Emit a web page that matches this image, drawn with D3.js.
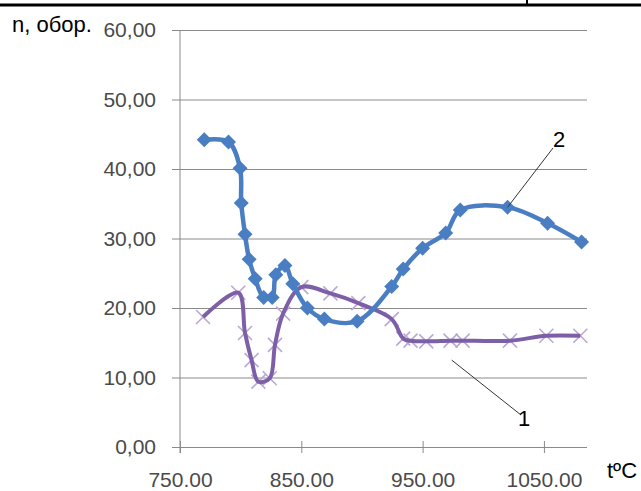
<!DOCTYPE html>
<html>
<head>
<meta charset="utf-8">
<script src="https://cdn.jsdelivr.net/npm/d3@7"></script>
<style>
  body { margin: 0; background: #fff; }
  svg { display: block; }
</style>
</head>
<body>
<script>
// curve 2 (blue, diamonds)
const temp2 = [770, 790, 799.5, 800.5, 803.6, 807, 812, 819, 826, 829, 836.5, 843, 855, 869, 896, 924.5, 934, 950, 969, 981, 1020, 1053, 1081]
const speed2 = [44.2, 43.9, 40.1, 35.1, 30.6, 27.0, 24.2, 21.5, 21.5, 24.8, 26.1, 23.5, 20.0, 18.4, 18.1, 23.1, 25.6, 28.6, 30.8, 34.1, 34.5, 32.2, 29.5]

// curve 1 (purple, crosses)
const temp1 = [769, 798, 803.6, 809, 814.6, 824, 828.3, 835, 850, 874, 897, 924.5, 934, 940, 953, 973, 983, 1022, 1052, 1080]
const speed1 = [18.7, 22.2, 16.4, 12.5, 9.4, 9.9, 14.7, 19.2, 23.0, 22.1, 20.7, 18.4, 15.6, 15.3, 15.2, 15.3, 15.3, 15.3, 16.0, 16.0]

const yTicks = [0, 10, 20, 30, 40, 50, 60]
const xTicks = [750, 850, 950, 1050]

const width = 641, height = 491
const plot = {left: 180, right: 587, top: 30, bottom: 447}

const svg = d3.select('body').append('svg')
    .attr('width', width)
    .attr('height', height)

const x = d3.scaleLinear().domain([750, 1085.5]).range([plot.left, plot.right])
const y = d3.scaleLinear().domain([0, 60]).range([plot.bottom, plot.top])

// black rule at the very top (cropped from the page)
svg.append('line')
    .attr('x1', 0).attr('x2', width)
    .attr('y1', 5).attr('y2', 5)
    .attr('stroke', '#000').attr('stroke-width', 3)
svg.append('line')
    .attr('x1', 527).attr('x2', 527)
    .attr('y1', 0).attr('y2', 4)
    .attr('stroke', '#000').attr('stroke-width', 2)

// y axis with gridlines
const yAxis = svg.append('g')
    .attr('transform', 'translate(' + plot.left + ',0)')
    .call(d3.axisLeft(y)
        .tickValues(yTicks)
        .tickSizeInner(-(plot.right - plot.left))
        .tickSizeOuter(0)
        .tickPadding(24)
        .tickFormat(d => d3.format('.2f')(d).replace('.', ',')))
yAxis.select('.domain').remove()
yAxis.selectAll('.tick line')
    .attr('x1', -8)
    .attr('stroke', '#8a8a8a')
yAxis.selectAll('.tick text')
    .attr('fill', '#4a4a4a')
    .style('font-family', '"Liberation Sans", Arial, sans-serif')
    .style('font-size', '21px')

// vertical axis line
svg.append('line')
    .attr('x1', plot.left).attr('x2', plot.left)
    .attr('y1', plot.top).attr('y2', plot.bottom + 6)
    .attr('stroke', '#8a8a8a')

// x axis
const xAxis = svg.append('g')
    .attr('transform', 'translate(0,' + plot.bottom + ')')
    .call(d3.axisBottom(x)
        .tickValues(xTicks)
        .tickSizeOuter(0)
        .tickFormat(d3.format('.2f')))
xAxis.select('.domain').remove()
xAxis.selectAll('.tick line')
    .attr('y1', -6).attr('y2', 6)
    .attr('stroke', '#8a8a8a')
xAxis.selectAll('.tick text')
    .attr('y', 40).attr('dy', 0)
    .attr('fill', '#4a4a4a')
    .style('font-family', '"Liberation Sans", Arial, sans-serif')
    .style('font-size', '21px')

const line = d3.line()
    .x(d => x(d[0]))
    .y(d => y(d[1]))
    .curve(d3.curveCatmullRom.alpha(0.5))

const series1 = temp1.map((t, i) => [t, speed1[i]])
const series2 = temp2.map((t, i) => [t, speed2[i]])

// curve 1: light crosses under a purple line
svg.selectAll('.cross').data(series1)
    .enter()
    .append('path')
        .attr('class', 'cross')
        .attr('transform', d => 'translate(' + x(d[0]) + ',' + y(d[1]) + ')')
        .attr('d', 'M-7,-7L7,7M-7,7L7,-7')
        .attr('stroke', '#bba8d6')
        .attr('stroke-width', 1.6)
        .attr('fill', 'none')

svg.append('path')
    .datum(series1)
    .attr('d', line)
    .attr('fill', 'none')
    .attr('stroke', '#7c5fa6')
    .attr('stroke-width', 4)

// curve 2: blue line with diamonds
svg.append('path')
    .datum(series2)
    .attr('d', line)
    .attr('fill', 'none')
    .attr('stroke', '#4a7ec2')
    .attr('stroke-width', 4.5)

svg.selectAll('.diamond').data(series2)
    .enter()
    .append('path')
        .attr('class', 'diamond')
        .attr('transform', d => 'translate(' + x(d[0]) + ',' + y(d[1]) + ')')
        .attr('d', 'M0,-7.5L7.5,0L0,7.5L-7.5,0Z')
        .attr('fill', '#4a7ec2')

// leader lines and curve numbers
svg.append('line')
    .attr('x1', x(1020)).attr('y1', y(34.5))
    .attr('x2', 553).attr('y2', 148)
    .attr('stroke', '#333').attr('stroke-width', 1)
svg.append('text')
    .attr('x', 553).attr('y', 147)
    .style('font-family', '"Liberation Sans", Arial, sans-serif')
    .style('font-size', '22px')
    .text('2')

svg.append('line')
    .attr('x1', x(974)).attr('y1', y(12.5))
    .attr('x2', 521).attr('y2', 415)
    .attr('stroke', '#333').attr('stroke-width', 1)
svg.append('text')
    .attr('x', 518).attr('y', 426)
    .style('font-family', '"Liberation Sans", Arial, sans-serif')
    .style('font-size', '22px')
    .text('1')

// axis titles
svg.append('text')
    .attr('x', 12).attr('y', 32)
    .style('font-family', '"Liberation Sans", Arial, sans-serif')
    .style('font-size', '22px')
    .text('n, обор.')

svg.append('text')
    .attr('x', 607).attr('y', 478)
    .style('font-family', '"Liberation Sans", Arial, sans-serif')
    .style('font-size', '22px')
    .text('tºC')
</script>
</body>
</html>
